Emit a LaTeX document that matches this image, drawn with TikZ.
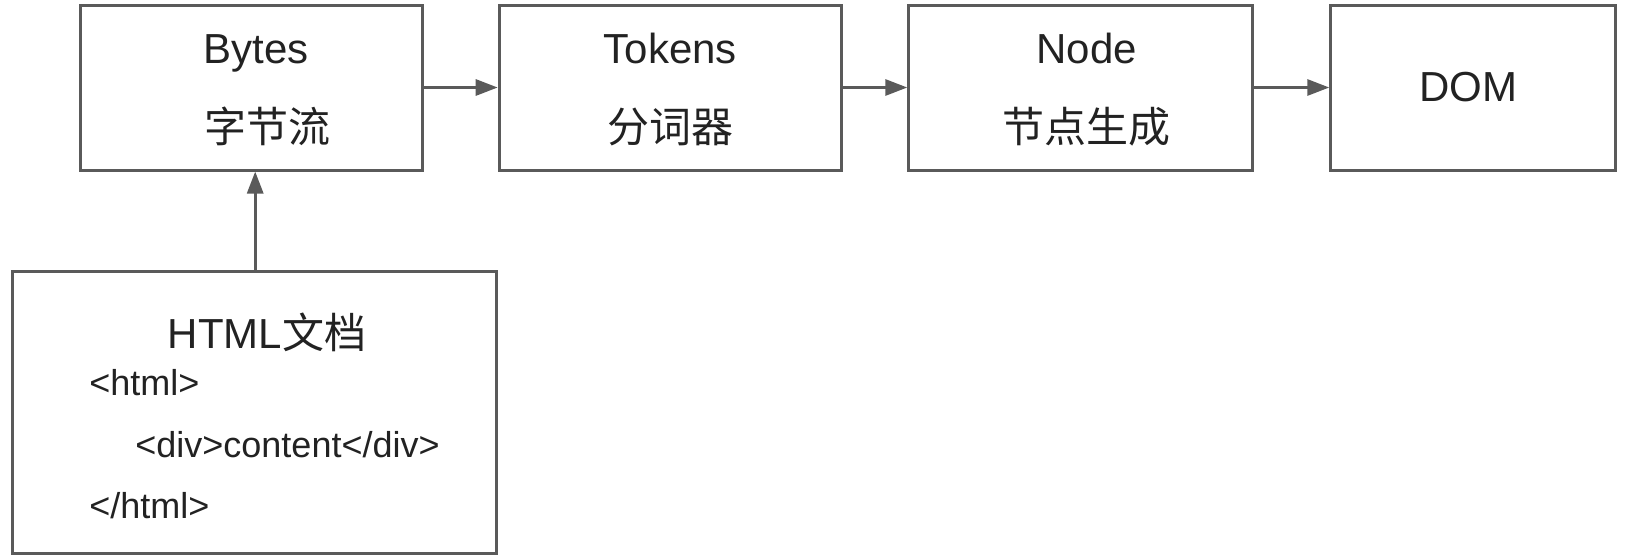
\documentclass[tikz,border=0pt]{standalone}
\usepackage{fontspec}
\setmainfont{Liberation Sans}
\newfontfamily\cjk{Noto Sans CJK SC}
\usetikzlibrary{arrows.meta}
\definecolor{edgegray}{HTML}{5A5A5A}
\definecolor{textgray}{HTML}{222222}
\newcommand{\toppad}{\rule{0pt}{17.5pt}}

\tikzset{
  stage/.style={draw=edgegray, line width=1.5pt, minimum height=82.5pt, align=center,
    text=textgray, font=\fontsize{21pt}{39.5pt}\selectfont, inner sep=0pt},
  flow/.style={draw=edgegray, line width=1.5pt, -{Triangle[length=11pt,width=8pt]}},
  code/.style={anchor=base west, text=textgray, font=\fontsize{18pt}{22pt}\selectfont, inner sep=0pt}
}

\begin{document}
\begin{tikzpicture}[x=0.5pt, y=-0.5pt]
\useasboundingbox (0,0) rectangle (1628,558);

\node[stage, minimum width=171pt] (bytes) at (251.3,87.5) {\toppad\hspace*{5pt}Bytes\\\hspace*{16pt}{\cjk 字节流}};
\node[stage, minimum width=171pt] (tokens) at (670.2,87.5) {\toppad Tokens\\{\cjk 分词器}};
\node[stage, minimum width=172pt] (gen) at (1080.8,87.5) {\toppad\hspace*{6pt}Node\\\hspace*{6pt}{\cjk 节点生成}};
\node[stage, minimum width=142.5pt] (dom) at (1473.3,87.5) {DOM\hspace*{5pt}};

\node[draw=edgegray, line width=1.5pt, minimum width=242pt, minimum height=140.8pt, inner sep=0pt] (html) at (254.7,412.5) {};
\node[anchor=base, text=textgray, font=\fontsize{21pt}{25pt}\selectfont, inner sep=0pt] (title) at (267,348) {HTML{\cjk 文档}};
\node[code] (open) at (89,395) {<html>};
\node[code] (div) at (135,457) {<div>content</div>};
\node[code] (close) at (89,518) {</html>};

\draw[flow] (bytes) -- (tokens);
\draw[flow] (tokens) -- (gen);
\draw[flow] (gen) -- (dom);
\draw[flow] (html.north) ++(0.5,0) coordinate (up) (up) -- (up |- bytes.south);

\end{tikzpicture}
\end{document}
